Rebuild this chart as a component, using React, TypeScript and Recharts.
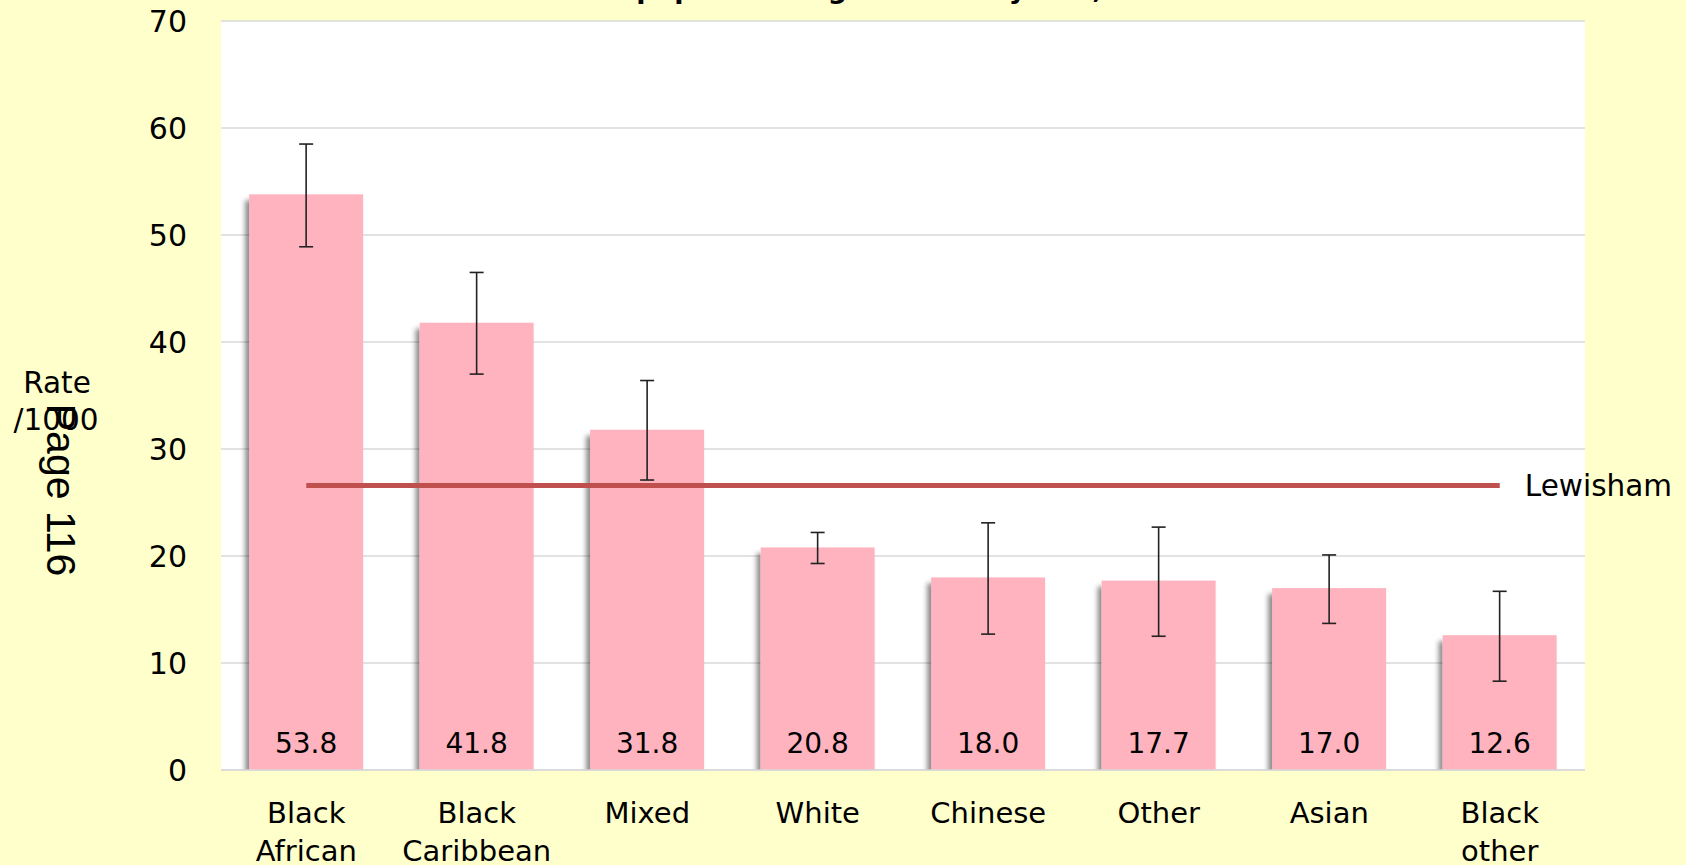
import React from 'react';
import { ComposedChart, Bar, Line, XAxis, YAxis, CartesianGrid, ErrorBar, LabelList } from 'recharts';

const categories = ['Black African', 'Black Caribbean', 'Mixed', 'White', 'Chinese', 'Other', 'Asian', 'Black other'];
const rates = [53.8, 41.8, 31.8, 20.8, 18.0, 17.7, 17.0, 12.6];
const lowerCI = [48.9, 37.0, 27.1, 19.3, 12.7, 12.5, 13.7, 8.3];
const upperCI = [58.5, 46.5, 36.4, 22.2, 23.1, 22.7, 20.1, 16.7];
const lewishamRate = 26.6;
const yTicks = [0, 10, 20, 30, 40, 50, 60, 70];

const data = categories.map((name, i) => ({
  name,
  rate: rates[i],
  err: [+(rates[i] - lowerCI[i]).toFixed(1), +(upperCI[i] - rates[i]).toFixed(1)],
  lewisham: lewishamRate,
}));

const W = 1686;
const H = 865;
const BG = '#FFFFCC';
const BAR = '#FFB3BE';
const LINE = '#C0504D';
const FONT = "'DejaVu Sans', Verdana, sans-serif";

const XTick = (props: any) => {
  const { x, y, payload } = props;
  const words = String(payload.value).split(' ');
  return (
    <text x={x} y={y + 51} textAnchor="middle" fontFamily={FONT} fontSize={29} fill="#000">
      {words.map((w: string, i: number) => (
        <tspan key={i} x={x} dy={i === 0 ? 0 : 37.5}>{w}</tspan>
      ))}
    </text>
  );
};

const BarShape = (props: any) => {
  const { x, y, width, height } = props;
  if (height <= 0) return null;
  return <rect x={x} y={y} width={width} height={height} fill={BAR} filter="url(#barShadow)" />;
};

const ValueLabel = (props: any) => {
  const { x, y, width, height, value } = props;
  return (
    <text x={x + width / 2} y={y + height - 17} textAnchor="middle" fontFamily={FONT} fontSize={28} fill="#000">
      {Number(value).toFixed(1)}
    </text>
  );
};

const LineLabel = (props: any) => {
  const { x, y, index } = props;
  if (index !== categories.length - 1) return null;
  return (
    <text x={x + 25} y={y + 11} fontFamily={FONT} fontSize={29.5} fill="#000">Lewisham</text>
  );
};

export default function App() {
  return (
    <div style={{ position: 'absolute', left: 0, top: 0, width: W, height: H, background: BG, overflow: 'hidden' }}>
      <svg width={0} height={0} style={{ position: 'absolute' }}>
        <defs>
          <filter id="barShadow" x="-20%" y="-10%" width="140%" height="110%">
            <feDropShadow dx={-4} dy={6} stdDeviation={2.5} floodColor="#000" floodOpacity={0.45} />
          </filter>
        </defs>
      </svg>
      <ComposedChart width={W} height={H} data={data} margin={{ top: 21, right: 101, bottom: 0, left: 0 }} barCategoryGap="16.5%">
        <CartesianGrid vertical={false} stroke="#D9D9D9" strokeWidth={1.5} fill="#FFFFFF" fillOpacity={1} />
        <XAxis dataKey="name" height={95} tickLine={false} tickSize={0} axisLine={{ stroke: '#D9D9D9', strokeWidth: 1.5 }} tick={<XTick />} interval={0} />
        <YAxis width={221} domain={[0, 70]} ticks={yTicks} axisLine={false} tickLine={false} tickSize={0} tickMargin={34}
          tick={{ fontFamily: FONT, fontSize: 30, fill: '#000' }} />
        <Bar dataKey="rate" shape={<BarShape />} isAnimationActive={false}>
          <ErrorBar dataKey="err" direction="y" width={7} stroke="#222" strokeWidth={1.6} />
          <LabelList dataKey="rate" content={<ValueLabel />} />
        </Bar>
        <Line dataKey="lewisham" stroke={LINE} strokeWidth={5} dot={false} activeDot={false} isAnimationActive={false}>
          <LabelList dataKey="lewisham" content={<LineLabel />} />
        </Line>
      </ComposedChart>
      <svg width={W} height={H} style={{ position: 'absolute', left: 0, top: 0, pointerEvents: 'none' }}>
        <text x={855} y={-2} textAnchor="middle" fontFamily={FONT} fontWeight="bold" fontSize={27} fill="#000">
          female population aged 15 - 44 years, 2013
        </text>
        <text x={57} y={393} textAnchor="middle" fontFamily={FONT} fontSize={29.5} fill="#000">Rate</text>
        <text x={56} y={430} textAnchor="middle" fontFamily={FONT} fontSize={29.5} fill="#000">/1000</text>
        <text x={47} y={490} textAnchor="middle" transform="rotate(90 47 490)" fontFamily="'Liberation Sans', Arial, sans-serif" fontSize={41} fill="#000">Page 116</text>
      </svg>
    </div>
  );
}
